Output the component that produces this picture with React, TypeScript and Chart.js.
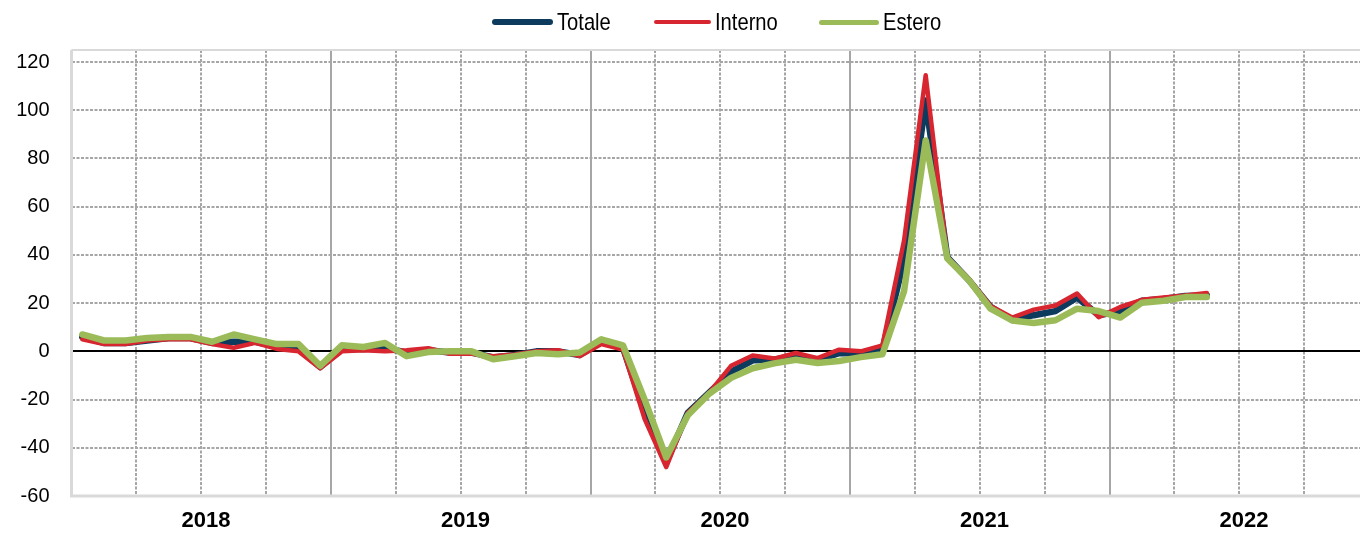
import React, { useEffect, useRef } from 'react';
import { Chart, registerables } from 'chart.js';

Chart.register(...registerables);

// monthly categories, Jan 2018 - Dec 2022
const years = ['2018', '2019', '2020', '2021', '2022'];
const monthNums = ['01', '02', '03', '04', '05', '06', '07', '08', '09', '10', '11', '12'];
const months = years.flatMap((y) => monthNums.map((m) => `${y}-${m}`));

// year-on-year % changes, Jan 2018 - May 2022
const totale = [
  6, 3.5, 3.5, 4.5, 5.5, 5.5, 3.5, 4, 4, 2, 1, -6.5,
  1, 1, 1.5, -0.5, 0.5, -0.5, -0.5, -2.5, -1.5, 0, 0, -1.5,
  4, 1.5, -25, -46, -25.5, -17, -8.5, -3.7, -3.5, -1.7, -3.5, -0.7,
  -1, 0.7, 38, 104, 39, 29.5, 18.5, 13, 15, 16.7, 22.3, 15,
  16.7, 21, 21.7, 23, 23.2,
];
const interno = [
  5, 3, 3, 4.5, 5, 5, 3, 1.5, 3.5, 1, 0, -7,
  0, 0.5, 0, 0.5, 1.3, -1, -1, -2, -1.3, 0, 0.5, -2,
  3, 0.7, -28, -48, -25.5, -17, -6, -1.7, -3, -0.7, -2.8, 0.7,
  0, 2.5, 46, 114.5, 39, 30, 18.8, 14, 17.3, 19, 24, 14.2,
  18.4, 21.4, 22.3, 23.2, 24.2,
];
const estero = [
  7, 4.5, 4.5, 5.5, 6, 6, 4, 7, 5, 3, 3, -6,
  2.5, 1.8, 3.5, -2, -0.3, 0, 0, -3.3, -2, -0.7, -1.2, -0.5,
  5, 2.5, -20, -44, -26.5, -17.5, -11, -7, -5, -3.5, -4.8, -4,
  -2.4, -1.2, 25, 87.5, 38.5, 29.5, 17.7, 12.8, 11.8, 12.9, 17.7, 16.7,
  14, 20.2, 21, 22.5, 22.5,
];

const yTicks = [-60, -40, -20, 0, 20, 40, 60, 80, 100, 120];

const NAVY = '#0d3b5e';
const RED = '#d7262f';
const GREEN = '#9bbb59';
const GRID = '#a6a6a6';
const FRAME = '#d9d9d9';

const legendItems = [
  { label: 'Totale', color: NAVY, left: 492, width: 61, thick: 6 },
  { label: 'Interno', color: RED, left: 654, width: 57, thick: 4 },
  { label: 'Estero', color: GREEN, left: 819, width: 60, thick: 5 },
];

const frame = {
  id: 'frame',
  beforeDatasetsDraw(chart: any) {
    const { ctx, chartArea } = chart;
    const { left, right, top, bottom } = chartArea;
    ctx.save();
    ctx.strokeStyle = FRAME;
    ctx.lineWidth = 2;
    ctx.beginPath();
    ctx.moveTo(left, top);
    ctx.lineTo(right + 20, top);
    ctx.stroke();
    ctx.lineWidth = 3;
    ctx.beginPath();
    ctx.moveTo(left, top);
    ctx.lineTo(left, bottom);
    ctx.lineTo(right + 20, bottom);
    ctx.stroke();
    ctx.restore();
  },
};

const App = () => {
  const canvasRef = useRef<HTMLCanvasElement>(null);

  useEffect(() => {
    if (!canvasRef.current) return;
    const font = "'Liberation Sans', Arial, sans-serif";
    const lineDs = (label: string, data: number[], color: string, width: number, order: number) => ({
      label,
      data,
      borderColor: color,
      backgroundColor: color,
      borderWidth: width,
      pointRadius: 0,
      tension: 0,
      borderJoinStyle: 'round',
      borderCapStyle: 'round',
      order,
    });

    const chart = new Chart(canvasRef.current, {
      type: 'line',
      data: {
        labels: months,
        datasets: [
          lineDs('Totale', totale, NAVY, 6.5, 3),
          lineDs('Interno', interno, RED, 4.5, 2),
          lineDs('Estero', estero, GREEN, 6.5, 1),
        ] as any,
      },
      options: {
        animation: false,
        responsive: true,
        maintainAspectRatio: false,
        layout: { padding: { top: 50, right: 11, left: 0, bottom: 0 } },
        plugins: { legend: { display: false }, tooltip: { enabled: false } },
        scales: {
          x: {
            type: 'category',
            offset: true,
            grid: {
              offset: true,
              drawTicks: false,
              lineWidth: 2,
              color: (c: any) => (c.index % 3 === 0 ? GRID : 'rgba(0,0,0,0)'),
            },
            border: {
              display: false,
              dash: (c: any) => (c.index % 12 === 0 ? [] : [3, 1.5]),
            },
            ticks: {
              autoSkip: false,
              maxRotation: 0,
              minRotation: 0,
              padding: 12,
              labelOffset: -6,
              color: '#000',
              font: { family: font, size: 22, weight: 'bold' },
              callback: function (this: any, value: any, index: number) {
                return index % 12 === 6 ? String(this.getLabelForValue(value)).slice(0, 4) : '';
              },
            },
            afterFit: (s: any) => {
              s.height = 37;
            },
          },
          y: {
            min: -60,
            max: 125,
            afterBuildTicks: (s: any) => {
              s.ticks = yTicks.map((v) => ({ value: v }));
            },
            grid: {
              drawTicks: false,
              lineWidth: 2,
              color: (c: any) => (c.tick && c.tick.value === 0 ? '#000' : GRID),
            },
            border: {
              display: false,
              dash: (c: any) => (c.tick && c.tick.value === 0 ? [] : [3, 1.5]),
            },
            ticks: {
              padding: 22,
              color: '#000',
              font: { family: font, size: 20 },
            },
            afterFit: (s: any) => {
              s.width = 71.5;
            },
          },
        },
      } as any,
      plugins: [frame],
    });

    return () => {
      chart.destroy();
    };
  }, []);

  return (
    <div
      style={{
        position: 'absolute',
        left: 0,
        top: 0,
        width: 1360,
        height: 533,
        overflow: 'hidden',
        background: '#fff',
      }}
    >
      <div style={{ position: 'relative', width: 1380, height: 533 }}>
        <canvas ref={canvasRef} role="img" aria-label="Totale, Interno, Estero"></canvas>
      </div>
      {legendItems.map((it) => (
        <div
          key={it.label}
          style={{
            position: 'absolute',
            left: it.left,
            top: 6,
            height: 32,
            display: 'flex',
            alignItems: 'center',
            fontFamily: "'Liberation Sans', Arial, sans-serif",
            fontSize: 24,
            color: '#000',
            whiteSpace: 'nowrap',
          }}
        >
          <span
            style={{
              display: 'inline-block',
              width: it.width,
              height: it.thick,
              borderRadius: it.thick / 2,
              background: it.color,
              marginRight: 4,
            }}
          />
          <span style={{ display: 'inline-block', transform: 'scaleX(0.84)', transformOrigin: 'left center' }}>
            {it.label}
          </span>
        </div>
      ))}
    </div>
  );
};

export default App;
